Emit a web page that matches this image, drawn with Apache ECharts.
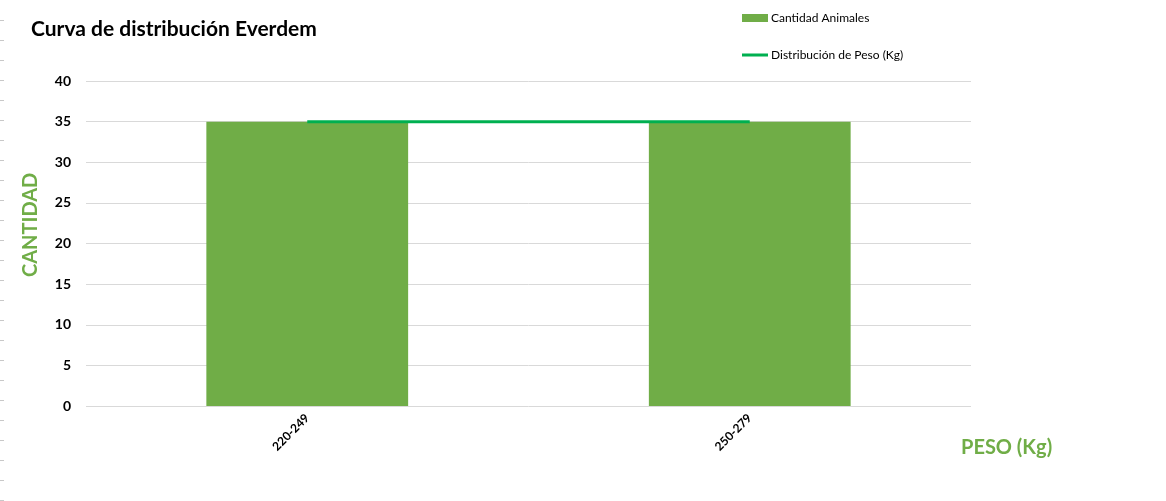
<!DOCTYPE html>
<html>
<head>
<meta charset="utf-8">
<script src="https://cdn.jsdelivr.net/npm/echarts@6/dist/echarts.min.js"></script>
<style>
  html, body { margin: 0; padding: 0; background: #fff; }
  #main { width: 1166px; height: 501px; }
</style>
</head>
<body>
<div id="main"></div>
<script>
var categories = ['220-249', '250-279'];
var cantidadAnimales = [35, 35];
var distribucionPeso = [35, 35];
var yTicks = { min: 0, max: 40, interval: 5 };

var font = 'Lato, "Open Sans", sans-serif';

// rayitas grises del borde izquierdo (filas de la hoja)
var edgeMarks = [];
for (var y = 20; y < 501; y += 20) {
    edgeMarks.push({
        type: 'line',
        shape: { x1: 0, y1: y + 0.5, x2: 4, y2: y + 0.5 },
        style: { stroke: '#c8c8c8', lineWidth: 1 },
        silent: true
    });
}

var myChart = echarts.init(document.getElementById('main'));

var option = {
    animation: false,
    backgroundColor: '#fff',
    title: {
        text: 'Curva de distribución Everdem',
        left: 26,
        top: 14,
        textStyle: { fontFamily: font, fontSize: 21, fontWeight: 'bold', color: '#000' }
    },
    legend: {
        orient: 'vertical',
        left: 742,
        top: 12,
        padding: 0,
        itemGap: 25,
        itemWidth: 26,
        itemHeight: 12,
        textStyle: { fontFamily: font, fontSize: 12, color: '#000', padding: [0, 0, 0, -2] },
        data: [
            { name: 'Cantidad Animales', icon: 'path://M0,2 L26,2 L26,10 L0,10 Z' },
            {
                name: 'Distribución de Peso (Kg)',
                icon: 'path://M0,0 L0,0 Z M0,4.6 L26,4.6 L26,7.4 L0,7.4 Z M26,12 L26,12 Z',
                itemStyle: { color: '#00B050', borderWidth: 0 }
            }
        ]
    },
    graphic: edgeMarks.concat([
        {
            type: 'text',
            left: 961,
            top: 438,
            style: { text: 'PESO (Kg)', font: 'bold 20px ' + font, fill: '#70AD47' }
        },
        {
            type: 'text',
            x: 21,
            y: 277,
            rotation: Math.PI / 2,
            style: { text: 'CANTIDAD', font: 'bold 20px ' + font, fill: '#70AD47' }
        }
    ]),
    grid: { left: 86, right: 195, top: 81, bottom: 95 },
    xAxis: {
        type: 'category',
        data: categories,
        axisLine: { show: false },
        axisTick: { show: false },
        axisLabel: {
            rotate: 45,
            margin: 10,
            fontFamily: font,
            fontSize: 12,
            fontWeight: 'bold',
            color: '#000'
        }
    },
    yAxis: {
        type: 'value',
        min: yTicks.min,
        max: yTicks.max,
        interval: yTicks.interval,
        axisLine: { show: false },
        axisTick: { show: false },
        axisLabel: { fontFamily: font, fontSize: 14, fontWeight: 'bold', color: '#000', margin: 15 },
        splitLine: { lineStyle: { color: '#d9d9d9', width: 1 } }
    },
    series: [
        {
            name: 'Cantidad Animales',
            type: 'bar',
            data: cantidadAnimales,
            barWidth: '45.6%',
            itemStyle: { color: '#70AD47' }
        },
        {
            name: 'Distribución de Peso (Kg)',
            type: 'line',
            data: distribucionPeso,
            symbol: 'none',
            z: 5,
            lineStyle: { color: '#00B050', width: 3 },
            itemStyle: { color: '#00B050' }
        }
    ]
};

myChart.setOption(option);
</script>
</body>
</html>
